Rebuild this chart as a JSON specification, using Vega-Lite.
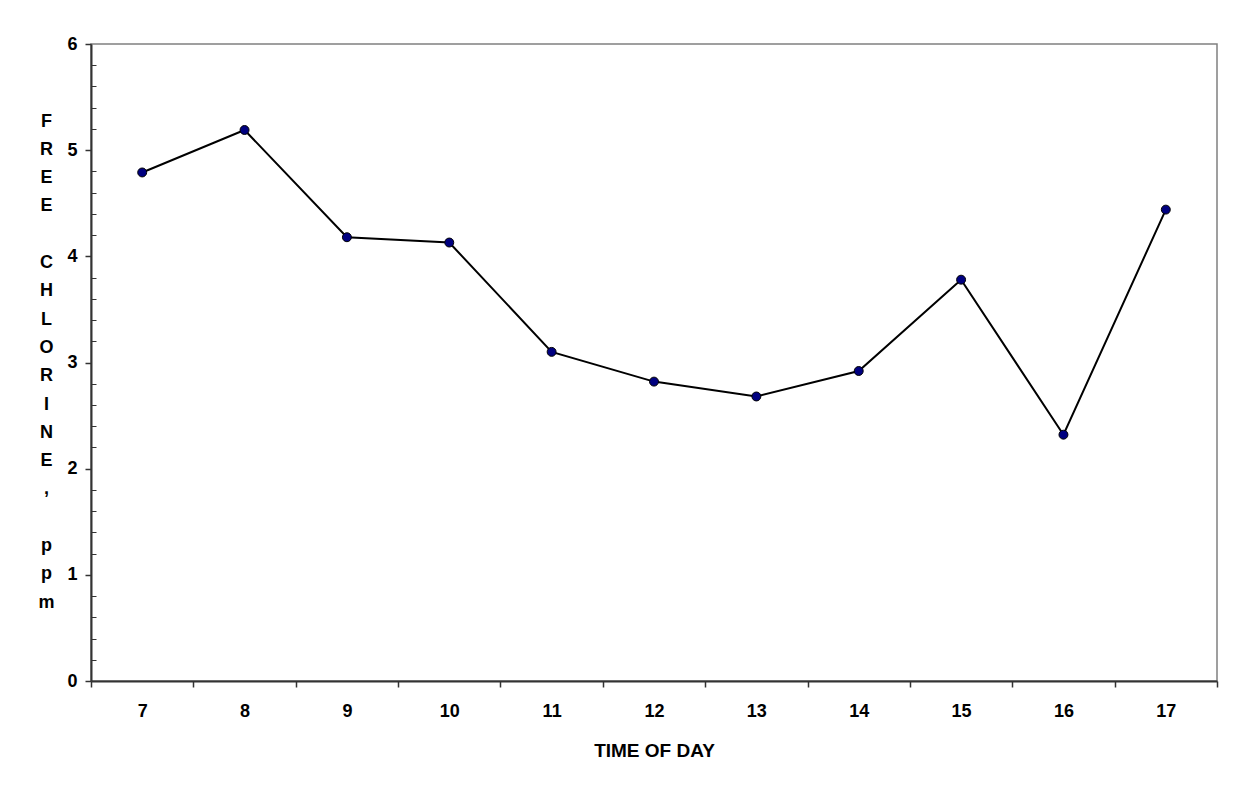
{
  "$schema": "https://vega.github.io/schema/vega-lite/v6.json",
  "width": 1126,
  "height": 637,
  "autosize": {"type": "none"},
  "padding": {"left": 91, "top": 44, "right": 18, "bottom": 108},
  "background": "white",
  "config": {
    "font": "Liberation Sans",
    "view": {"stroke": "#808080", "strokeWidth": 1.5}
  },
  "data": {
    "values": [
      {"hour": 7, "ppm": 4.79},
      {"hour": 8, "ppm": 5.19},
      {"hour": 9, "ppm": 4.18},
      {"hour": 10, "ppm": 4.13},
      {"hour": 11, "ppm": 3.10},
      {"hour": 12, "ppm": 2.82},
      {"hour": 13, "ppm": 2.68},
      {"hour": 14, "ppm": 2.92},
      {"hour": 15, "ppm": 3.78},
      {"hour": 16, "ppm": 2.32},
      {"hour": 17, "ppm": 4.44}
    ]
  },
  "encoding": {
    "x": {
      "field": "hour", "type": "ordinal",
      "scale": {"type": "band", "paddingInner": 0, "paddingOuter": 0},
      "axis": {
        "title": "TIME OF DAY",
        "tickBand": "extent",
        "labelAngle": 0,
        "tickSize": 6,
        "tickColor": "#333333",
        "tickWidth": 1.5,
        "domainColor": "#333333",
        "domainWidth": 2,
        "labelFontSize": 18,
        "labelFontWeight": "bold",
        "labelColor": "black",
        "labelPadding": 15,
        "titleFontSize": 19,
        "titleFontWeight": "bold",
        "titleColor": "black",
        "titlePadding": 21,
        "grid": false
      }
    },
    "y": {
      "field": "ppm", "type": "quantitative",
      "scale": {"domain": [0, 6], "nice": false},
      "axis": {
        "orient": "left",
        "values": [0, 1, 2, 3, 4, 5, 6],
        "format": "d",
        "tickSize": 6,
        "tickColor": "#333333",
        "tickWidth": 1.5,
        "domainColor": "#333333",
        "domainWidth": 2,
        "labelFontSize": 18,
        "labelFontWeight": "bold",
        "labelColor": "black",
        "labelPadding": 8,
        "grid": false,
        "title": ["F", "R", "E", "E", "\u2800", "C", "H", "L", "O", "R", "I", "N", "E", ",", "\u2800", "p", "p", "m"],
        "titleAngle": 0,
        "titleFontSize": 18,
        "titleFontWeight": "bold",
        "titleColor": "black",
        "titleLineHeight": 28.3,
        "titleAlign": "center",
        "titleBaseline": "middle",
        "titleX": -45,
        "titleY": 77
      }
    }
  },
  "layer": [
    {
      "mark": {
        "type": "line", "color": "black", "strokeWidth": 2,
        "point": {"filled": true, "fill": "#000080", "stroke": "black", "strokeWidth": 1, "size": 80, "opacity": 1}
      }
    },
    {
      "mark": {"type": "point", "opacity": 0},
      "encoding": {
        "y": {
          "field": "ppm", "type": "quantitative",
          "axis": {
            "orient": "left",
            "values": [0.2, 0.4, 0.6, 0.8, 1.2, 1.4, 1.6, 1.8, 2.2, 2.4, 2.6, 2.8, 3.2, 3.4, 3.6, 3.8, 4.2, 4.4, 4.6, 4.8, 5.2, 5.4, 5.6, 5.8],
            "offset": -5,
            "tickSize": 5,
            "tickColor": "#333333",
            "tickWidth": 1,
            "domain": false,
            "labels": false,
            "grid": false,
            "title": null
          }
        }
      }
    }
  ],
  "resolve": {"axis": {"y": "independent"}}
}
